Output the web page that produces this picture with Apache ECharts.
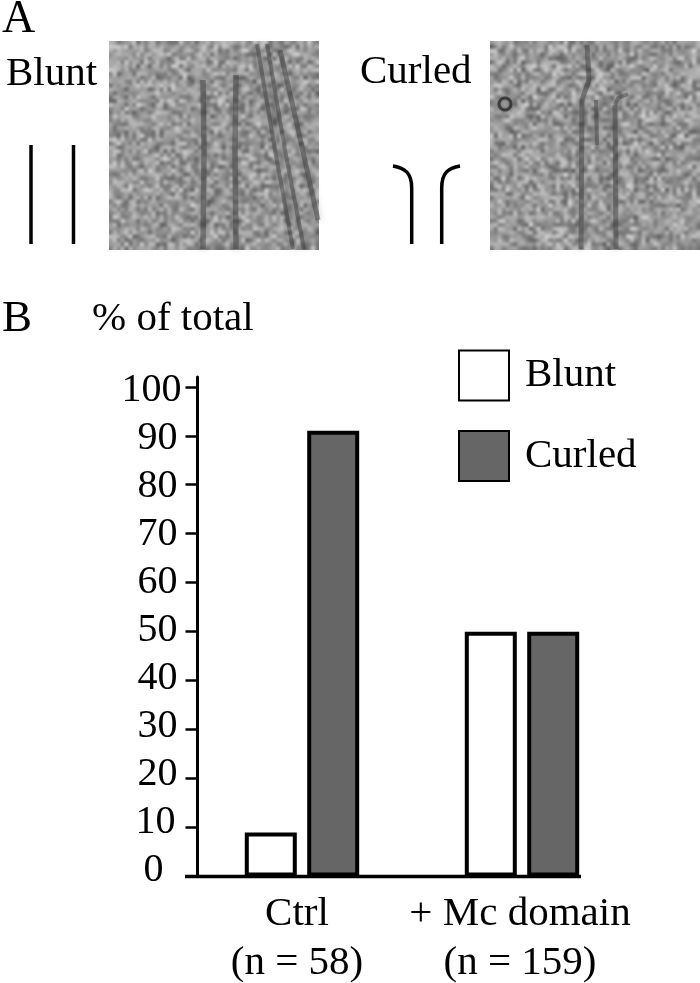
<!DOCTYPE html>
<html><head><meta charset="utf-8">
<style>html,body{margin:0;padding:0;background:#fff}#c{width:700px;height:983px}</style>
<script src="https://cdn.jsdelivr.net/npm/echarts@6/dist/echarts.min.js"></script>
</head><body><div id="c"></div>
<script>
var categories = ['Ctrl\n(n = 58)', '+ Mc domain\n(n = 159)'];
var bluntValues = [9, 50];
var curledValues = [91, 50];
var yTicks = [0, 10, 20, 30, 40, 50, 60, 70, 80, 90, 100];
var seriesNames = ['Blunt', 'Curled'];
var FONT = '"Liberation Serif","Times New Roman",serif';

function texture(seed, w, h) {
  var cv = document.createElement('canvas'); cv.width = w; cv.height = h;
  var cell = 4, gw = Math.ceil(w / cell) + 1, gh = Math.ceil(h / cell) + 1;
  var s = document.createElement('canvas'); s.width = gw; s.height = gh;
  var sx = s.getContext('2d'), img = sx.createImageData(gw, gh);
  function hash(x, y) { var v = Math.sin(x * 127.1 + y * 311.7 + seed) * 43758.5453; return v - Math.floor(v); }
  for (var y = 0; y < gh; y++) for (var x = 0; x < gw; x++) {
    var n = hash(x, y) * 0.6 + hash(x + 0.5, y * 0.5 + 9) * 0.4;
    var g = Math.round(92 + n * 120), i = (y * gw + x) * 4;
    img.data[i] = img.data[i + 1] = img.data[i + 2] = g; img.data[i + 3] = 255;
  }
  sx.putImageData(img, 0, 0);
  var c = cv.getContext('2d'); c.imageSmoothingEnabled = true; c.imageSmoothingQuality = 'high';
  c.drawImage(s, 0, 0, w, h);
  return cv;
}
function fil(points, width, alpha) {
  return { type: 'polyline', z: 5, shape: { points: points },
    style: { fill: null, stroke: 'rgba(55,55,55,' + (alpha || 0.45) + ')', lineWidth: width || 5.5, shadowBlur: 7, shadowColor: 'rgba(55,55,55,0.6)' } };
}
function txt(x, baseline, s, size) {
  size = size || 41;
  return { type: 'text', z: 10, x: x, y: baseline - size * 0.79, style: { text: s, font: size + 'px ' + FONT, fill: '#000' } };
}
var inkStyle = { fill: null, stroke: '#000', lineWidth: 3.5 };
function seg(x1, y1, x2, y2) {
  return { type: 'line', z: 10, shape: { x1: x1, y1: y1, x2: x2, y2: y2 }, style: inkStyle };
}
function curve(x1, y1, cx1, cy1, cx2, cy2, x2, y2) {
  return { type: 'bezierCurve', z: 10, shape: { x1: x1, y1: y1, cpx1: cx1, cpy1: cy1, cpx2: cx2, cpy2: cy2, x2: x2, y2: y2 }, style: inkStyle };
}
// tick labels in the figure sit slightly off their ticks; nudge them with rich-text padding
var labelRich = {};
yTicks.forEach(function (v) {
  var drift = -6.5 + 0.1 * v;
  var right = v === 0 ? 18 : v === 10 ? 6 : v === 100 ? 0 : 4;
  labelRich['t' + v] = {
    fontFamily: FONT, fontSize: 40, color: '#000',
    padding: [drift > 0 ? 2 * drift : 0, right, drift < 0 ? -2 * drift : 0, 0]
  };
});
var chart = echarts.init(document.getElementById('c'), null, { renderer: 'canvas' });
chart.setOption({
  animation: false,
  backgroundColor: '#fff',
  grid: { left: 192, width: 440, top: 377, height: 499.5, outerBoundsMode: 'none' },
  legend: {
    left: 458, top: 349.5, padding: 0, orient: 'vertical', itemWidth: 50, itemHeight: 50, itemGap: 28.5,
    icon: 'rect', data: seriesNames,
    textStyle: { fontFamily: FONT, fontSize: 41, color: '#000', padding: [0, 0, 4, 11] }
  },
  xAxis: {
    type: 'category', data: [
      { value: categories[0], textStyle: { padding: [0, 10, 0, 0] } },
      { value: categories[1], textStyle: { padding: [0, 4, 0, 0] } }],
    axisLine: { show: false }, axisTick: { show: false },
    axisLabel: { interval: 0, margin: 13, fontFamily: FONT, fontSize: 41, lineHeight: 49, color: '#000' }
  },
  yAxis: {
    type: 'value', min: 0, max: 102, offset: -5.5, splitLine: { show: false },
    axisLine: { show: true, onZero: false, lineStyle: { color: '#000', width: 3 } },
    axisTick: { show: true, length: 12, customValues: yTicks, lineStyle: { color: '#000', width: 2.5 } },
    axisLabel: {
      customValues: yTicks, margin: 16, fontFamily: FONT, fontSize: 40, color: '#000',
      formatter: function (v) { return '{t' + v + '|' + v + '}'; }, rich: labelRich
    }
  },
  series: [
    { name: seriesNames[0], type: 'bar', data: bluntValues, barWidth: 52, barGap: '20%',
      itemStyle: { color: '#fff', borderColor: '#000', borderWidth: 4 } },
    { name: seriesNames[1], type: 'bar', data: curledValues, barWidth: 52,
      itemStyle: { color: '#666', borderColor: '#000', borderWidth: 4 } }
  ],
  graphic: [
    { type: 'line', z: 20, shape: { x1: 185, y1: 876.5, x2: 581, y2: 876.5 }, style: { stroke: '#000', lineWidth: 3.5 } },
    txt(2, 33, 'A', 46), txt(2, 332, 'B', 45),
    txt(6, 86, 'Blunt'), txt(360, 84, 'Curled'), txt(92, 331, '% of total'),
    seg(31, 145, 31, 244), seg(73.5, 145, 73.5, 244),
    curve(393, 166, 405, 168, 411.7, 173, 411.7, 188), seg(411.7, 188, 411.7, 244),
    curve(460, 166, 448, 168, 441.7, 173, 441.7, 188), seg(441.7, 188, 441.7, 244),
    { type: 'image', z: 1, x: 109, y: 41, style: { image: texture(1.3, 210, 209), x: 0, y: 0, width: 210, height: 209 } },
    { type: 'image', z: 1, x: 490, y: 41, style: { image: texture(7.9, 210, 209), x: 0, y: 0, width: 210, height: 209 } },
    fil([[203, 80], [204, 150], [203, 249]]), fil([[236, 75], [235, 150], [236, 249]]),
    fil([[257, 44], [275, 150], [293, 249]], 4), fil([[267, 44], [285, 150], [304, 249]], 4), fil([[280, 50], [296, 120], [318, 220]], 5),
    fil([[587, 45], [589, 80], [582, 100], [581, 249]], 5), fil([[615, 105], [616, 249]], 5),
    fil([[596, 100], [597, 145]], 4), fil([[615, 105], [618, 98], [628, 94]], 4),
    { type: 'circle', z: 5, shape: { cx: 505, cy: 104, r: 6 }, style: { fill: 'rgba(170,170,170,0.6)', stroke: 'rgba(45,45,45,0.8)', lineWidth: 3, shadowBlur: 3, shadowColor: 'rgba(45,45,45,0.6)' } }
  ]
});
</script></body></html>
